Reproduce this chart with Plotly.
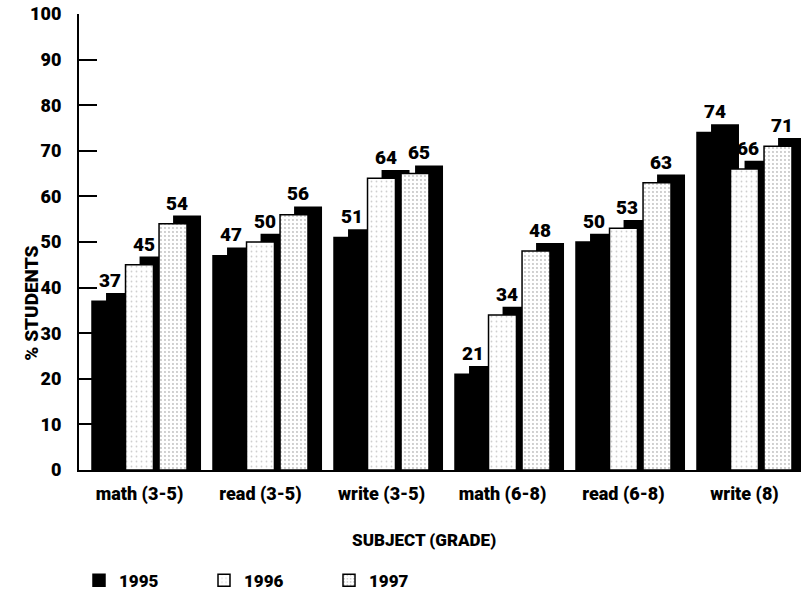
import plotly.graph_objects as go

categories = ["math (3-5)", "read (3-5)", "write (3-5)", "math (6-8)", "read (6-8)", "write (8)"]
years = ["1995", "1996", "1997"]
v1995 = [37, 47, 51, 21, 50, 74]
v1996 = [45, 50, 64, 34, 53, 66]
v1997 = [54, 56, 65, 48, 63, 71]
yticks = [0, 10, 20, 30, 40, 50, 60, 70, 80, 90, 100]

series = [v1995, v1996, v1997]
fills = [
    dict(color="black", pattern=None),
    dict(color="white", pattern=dict(shape=".", fgcolor="#a0a0a0", bgcolor="white", size=5, solidity=0.1)),
    dict(color="white", pattern=dict(shape=".", fgcolor="#808080", bgcolor="white", size=4, solidity=0.18)),
]

spacing = 0.277
width = 0.231
sdx = 0.116
sdy = 1.8
FONT = "Roboto"
W = 900

fig = go.Figure()

# shadows (drawn first)
for k, vals in enumerate(series):
    xs = [i + (k - 1) * spacing + sdx for i in range(len(categories))]
    fig.add_trace(go.Bar(x=xs, y=[v + sdy for v in vals], width=width,
                         marker=dict(color="black", line=dict(width=0)),
                         showlegend=False, hoverinfo="skip"))

# fronts
for k, vals in enumerate(series):
    xs = [i + (k - 1) * spacing for i in range(len(categories))]
    m = dict(color=fills[k]["color"], line=dict(color="black", width=1.5))
    if fills[k]["pattern"]:
        m["pattern"] = fills[k]["pattern"]
    fig.add_trace(go.Bar(x=xs, y=vals, width=width, marker=m, name=years[k]))
    for x, v in zip(xs, vals):
        fig.add_annotation(x=x, y=v + sdy, text=str(v), showarrow=False,
                           yanchor="bottom", yshift=-1, xshift=4,
                           font=dict(size=19, color="black", family=FONT, weight=W))

fig.add_annotation(xref="paper", yref="paper", x=0.478, y=-0.153, text="SUBJECT (GRADE)",
                   yanchor="middle", showarrow=False,
                   font=dict(size=17, family=FONT, weight=W, color="black"))
fig.add_annotation(xref="paper", yref="paper", x=-0.085, y=0.365, text="% STUDENTS", textangle=-90,
                   showarrow=False, font=dict(size=19, family=FONT, weight=W, color="black"))

fig.update_layout(
    width=801, height=594,
    margin=dict(l=79, r=0, t=14, b=124, autoexpand=False),
    paper_bgcolor="white", plot_bgcolor="white",
    barmode="overlay",
    font=dict(family=FONT, size=17, color="black", weight=W),
    showlegend=True,
    legend=dict(orientation="h", x=0.0, y=-0.243, xanchor="left", yanchor="middle",
                entrywidth=80, entrywidthmode="pixels",
                font=dict(size=17, family=FONT, weight=W)),
    xaxis=dict(range=[-0.5, 5.467], tickvals=list(range(len(categories))), ticktext=categories,
               showgrid=False, zeroline=False, showline=True, linecolor="black", linewidth=2,
               ticks="", ticklabelstandoff=6, automargin=False,
               tickfont=dict(size=18, family=FONT, weight=W)),
    yaxis=dict(range=[0, 100], tickvals=yticks, showgrid=False, zeroline=False,
               showline=True, linecolor="black", linewidth=2,
               ticks="inside", ticklen=18, tickwidth=2, tickcolor="black",
               ticklabelstandoff=12, automargin=False,
               tickfont=dict(size=18, family=FONT, weight=W)),
)

fig.write_html("out.html")
